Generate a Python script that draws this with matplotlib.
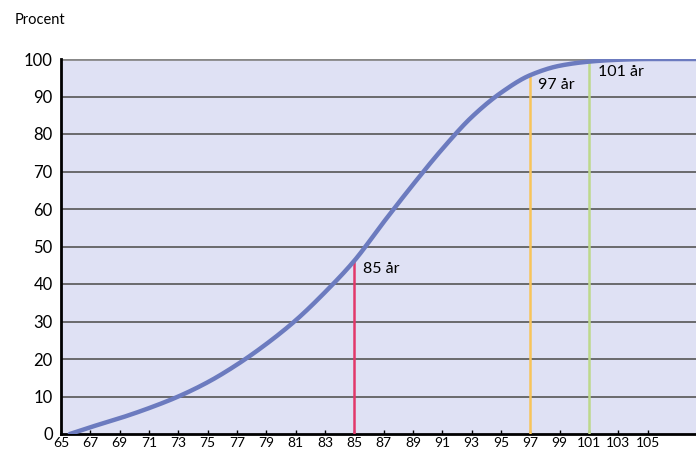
import matplotlib
matplotlib.use("Agg")
import matplotlib.pyplot as plt
import numpy as np

plt.rcParams['font.family'] = ['Lato', 'DejaVu Sans']

ages = [65.6, 67, 69, 71, 73, 75, 77, 79, 81, 83, 85, 87, 89, 91, 93, 95, 97, 99, 101, 103, 105, 108.3]
pct = [0, 1.8, 4.2, 6.9, 10.0, 13.8, 18.5, 24.0, 30.3, 37.8, 46.2, 56.5, 66.5, 76.0, 84.5, 91.0, 95.7, 98.2, 99.3, 99.8, 100, 100]

marker_ages = [85, 97, 101]
marker_vals = [46, 95.7, 99.3]
marker_labels = ["85 år", "97 år", "101 år"]
marker_colors = ["#e2386a", "#f8c45a", "#bdd98c"]

xticks = list(range(65, 106, 2))
yticks = list(range(0, 101, 10))

fig = plt.figure(figsize=(6.96, 4.53), dpi=100)
ax = fig.add_axes([61/696, 19/453, 1 - 61/696, 375/453])
ax.set_facecolor("#dfe1f4")

for y in yticks[1:]:
    ax.axhline(y, color="#555555" if y < 100 else "#888888", lw=1.2 if y < 100 else 2, zorder=1)

def pchip(x, y, xn):
    x = np.asarray(x, float); y = np.asarray(y, float)
    h = np.diff(x); d = np.diff(y) / h
    m = np.zeros_like(y)
    for k in range(1, len(x) - 1):
        if d[k-1] * d[k] <= 0:
            m[k] = 0
        else:
            w1 = 2*h[k] + h[k-1]; w2 = h[k] + 2*h[k-1]
            m[k] = (w1 + w2) / (w1/d[k-1] + w2/d[k])
    m[0] = d[0]; m[-1] = d[-1]
    out = np.empty_like(xn)
    for i, xv in enumerate(xn):
        k = min(np.searchsorted(x, xv) - 1, len(x) - 2); k = max(k, 0)
        t = (xv - x[k]) / h[k]
        h00 = 2*t**3 - 3*t**2 + 1; h10 = t**3 - 2*t**2 + t
        h01 = -2*t**3 + 3*t**2; h11 = t**3 - t**2
        out[i] = h00*y[k] + h10*h[k]*m[k] + h01*y[k+1] + h11*h[k]*m[k+1]
    return out

xn = np.linspace(ages[0], ages[-1], 500)
ax.plot(xn, pchip(ages, pct, xn), color="#6c7bbf", lw=3.2, zorder=4, solid_capstyle='round')

for a, v, c in zip(marker_ages, marker_vals, marker_colors):
    ax.plot([a, a], [0, v], color=c, lw=1.8, zorder=3)

ax.text(85.6, 44, marker_labels[0], fontsize=11.5, va="center", ha="left", zorder=5)
ax.text(97.5, 93, marker_labels[1], fontsize=11.5, va="center", ha="left", zorder=5)
ax.text(101.6, 96.5, marker_labels[2], fontsize=11.5, va="center", ha="left", zorder=5)

ax.set_xlim(65, 108.3)
ax.set_ylim(0, 100)
ax.set_xticks(xticks)
ax.set_xticklabels([str(t) for t in xticks], fontsize=10)
ax.set_yticks(yticks)
ax.set_yticklabels([str(t) for t in yticks], fontsize=12)
ax.tick_params(axis='x', length=3, width=1, pad=2, direction='in')
ax.tick_params(axis='y', length=0, pad=6)
for s in ["top", "right"]:
    ax.spines[s].set_visible(False)
ax.spines["left"].set_linewidth(2)
ax.spines["bottom"].set_linewidth(2)

fig.text(15/696, 1 - 20/453, "Procent", fontsize=10.5, va="center", ha="left")

fig.savefig("out.png", dpi=100)
